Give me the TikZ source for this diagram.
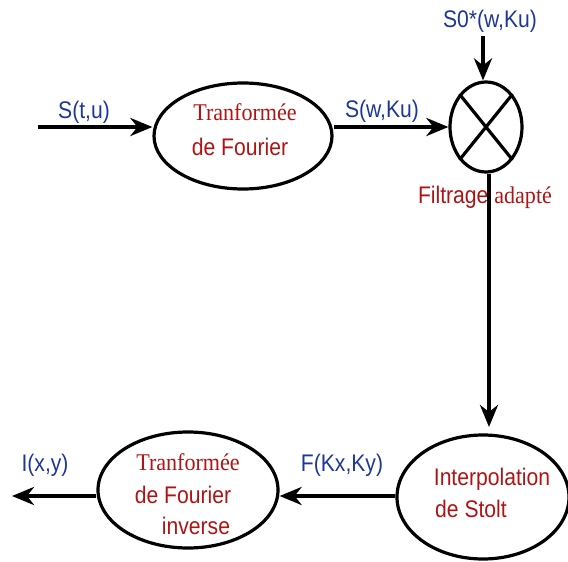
\documentclass[tikz,border=0pt]{standalone}
\usepackage{fontspec}
\setmainfont{Liberation Serif}
\setsansfont{Liberation Sans}
\newfontfamily\lblfont[FakeStretch=0.88]{Liberation Sans}
\newfontfamily\serfont[FakeStretch=0.92]{Liberation Serif}
\usetikzlibrary{arrows.meta,shapes.geometric}
\definecolor{lblblue}{RGB}{30,55,150}
\definecolor{txtred}{RGB}{175,20,20}
\tikzset{
  blk/.style={draw=black,line width=3.2pt,ellipse,inner sep=0pt},
  conn/.style={line width=4.4pt,-{Stealth[length=22pt,width=18pt,inset=7pt]}},
  lbl/.style={text=lblblue,font=\lblfont\fontsize{24}{26}\selectfont,inner sep=0pt},
  rtxt/.style={text=txtred,font=\lblfont\fontsize{24}{26}\selectfont,inner sep=0pt,anchor=base},
  stxt/.style={text=txtred,font=\serfont\fontsize{24}{26}\selectfont,inner sep=0pt,anchor=base},
}
\begin{document}
\begin{tikzpicture}[x=1pt,y=-1pt]
\useasboundingbox (0,0) rectangle (568,562);
% nodes
\node[blk,minimum width=178pt,minimum height=106pt] (tf) at (243,136) {};
\node[blk,minimum width=72pt,minimum height=90pt] (mix) at (486,127) {};
\draw[line width=3.2pt] (mix.north west) -- (mix.south east) (mix.north east) -- (mix.south west);
\node[blk,minimum width=172pt,minimum height=124pt] (st) at (483,497) {};
\node[blk,minimum width=180pt,minimum height=116pt] (itf) at (188,490) {};
\coordinate (in) at (38,127);
\coordinate (s0) at (483,36);
\coordinate (out) at (12,496);
% texts in blocks
\node[stxt] (t1) at (245,120) {Tranformée};
\node[rtxt] (t2) at (240,155) {de Fourier};
\node[rtxt] (t3) at (492,485) {Interpolation};
\node[rtxt] (t4) at (471,517) {de Stolt};
\node[stxt] (t5) at (188,470) {Tranformée};
\node[rtxt] (t6) at (183,503) {de Fourier};
\node[rtxt] (t7) at (196,534) {inverse};
\node[rtxt] (t8) at (485,203) {Filtrage {\serfont adapté}};
% labels
\node[lbl] (l1) at (84,112) {S(t,u)};
\node[lbl] (l2) at (382,111) {S(w,Ku)};
\node[lbl] (l3) at (490,21) {S0*(w,Ku)};
\node[lbl] (l4) at (342,465) {F(Kx,Ky)};
\node[lbl] (l5) at (45,465) {I(x,y)};
% connectors
\draw[conn] (in) -- (tf.west |- in);
\draw[conn] (tf.east |- mix.west) -- (mix.west);
\draw[conn] (s0) -- (mix.north -| s0);
\draw[conn] (mix.south -| 489,0) -- (489,427);
\draw[conn] (st.west |- 0,496) -- (itf.east |- 0,496);
\draw[conn] (itf.west |- 0,496) -- (out);
\end{tikzpicture}
\end{document}
